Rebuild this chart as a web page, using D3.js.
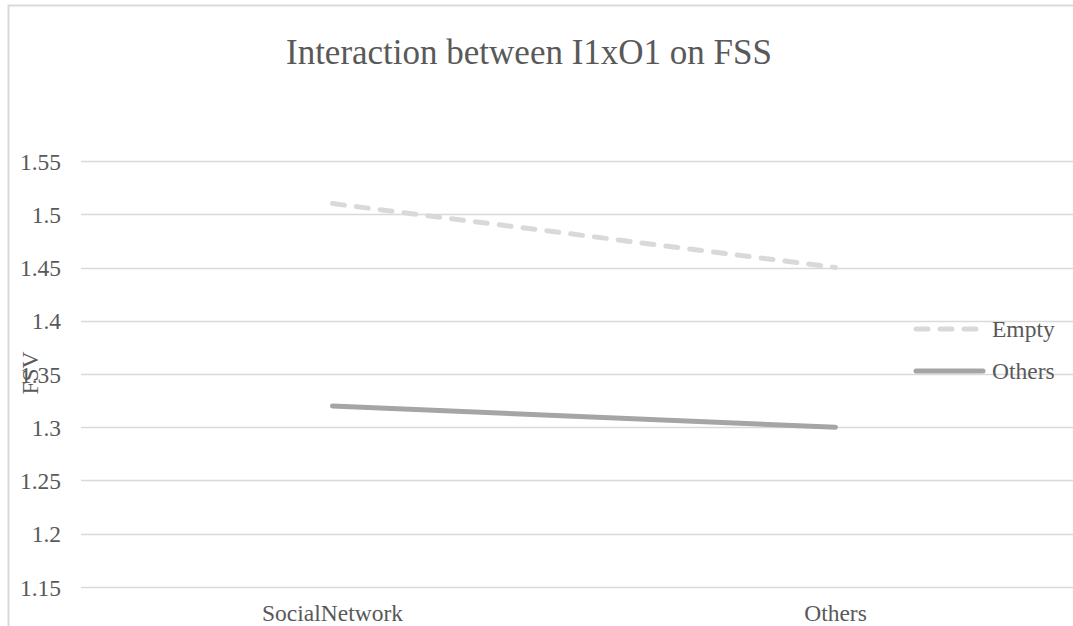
<!DOCTYPE html>
<html>
<head>
<meta charset="utf-8">
<script src="https://cdn.jsdelivr.net/npm/d3@7"></script>
<style>
  html, body { margin: 0; padding: 0; background: #fff; }
  svg { display: block; }
  text { font-family: "Liberation Serif", "Times New Roman", serif; fill: #595959; }
</style>
</head>
<body>
<svg id="chart" width="1073" height="626"></svg>
<script>
// Chart data
const categories = ["SocialNetwork", "Others"];
const seriesNames = ["Empty", "Others"];
const emptyValues = [1.51, 1.45];
const othersValues = [1.32, 1.30];
const yTicks = [1.15, 1.2, 1.25, 1.3, 1.35, 1.4, 1.45, 1.5, 1.55];
const titleText = "Interaction between I1xO1 on FSS";
const yTitle = "FSV";

const series = [
  { name: seriesNames[0], values: emptyValues, color: "#d9d9d9", dash: "12,12" },
  { name: seriesNames[1], values: othersValues, color: "#a5a5a5", dash: null }
];

const labelSize = 23.5;
const svg = d3.select("#chart");

// Outer chart frame
svg.append("rect")
  .attr("x", 8.5).attr("y", 5.5)
  .attr("width", 1100).attr("height", 700)
  .attr("fill", "none").attr("stroke", "#d9d9d9").attr("stroke-width", 2);

const plot = { left: 81, right: 1087, top: 161, bottom: 587 };

const x = d3.scaleBand().domain(categories).range([plot.left, plot.right]);
const y = d3.scaleLinear().domain([1.15, 1.55]).range([plot.bottom, plot.top]);

// Horizontal gridlines
svg.append("g")
  .selectAll("line")
  .data(yTicks)
  .join("line")
  .attr("x1", plot.left).attr("x2", plot.right)
  .attr("y1", d => Math.round(y(d)) + 0.5).attr("y2", d => Math.round(y(d)) + 0.5)
  .attr("stroke", "#d9d9d9").attr("stroke-width", 1.3);

// Y axis labels
const yAxis = d3.axisLeft(y).tickValues(yTicks).tickSize(0).tickPadding(0).tickFormat(d => String(+d.toFixed(2)));
svg.append("g")
  .attr("transform", `translate(61,0)`)
  .call(yAxis)
  .call(g => g.select(".domain").remove())
  .selectAll("text")
  .attr("font-size", labelSize)
  .attr("dy", "0.34em")
  .style("font-family", "Liberation Serif, serif")
  .attr("fill", "#595959");

// X axis labels
const xAxis = d3.axisBottom(x).tickSize(0).tickPadding(0);
svg.append("g")
  .attr("transform", `translate(0,621)`)
  .call(xAxis)
  .call(g => g.select(".domain").remove())
  .selectAll("text")
  .attr("font-size", labelSize)
  .attr("y", 0)
  .attr("dy", 0)
  .style("font-family", "Liberation Serif, serif")
  .attr("fill", "#595959");

// Series lines
const line = d3.line()
  .x((d, i) => x(categories[i]) + x.bandwidth() / 2)
  .y(d => y(d));

svg.append("g")
  .selectAll("path")
  .data(series)
  .join("path")
  .attr("d", d => line(d.values))
  .attr("fill", "none")
  .attr("stroke", d => d.color)
  .attr("stroke-width", 5)
  .attr("stroke-linecap", "round")
  .attr("stroke-dasharray", d => d.dash);

// Title
svg.append("text")
  .attr("x", 529).attr("y", 64)
  .attr("text-anchor", "middle")
  .attr("font-size", 35)
  .text(titleText);

// Y axis title
svg.append("text")
  .attr("transform", "translate(38,373) rotate(-90)")
  .attr("text-anchor", "middle")
  .attr("font-size", labelSize)
  .text(yTitle);

// Legend
const legend = svg.append("g");
const legendRows = legend.selectAll("g")
  .data(series)
  .join("g")
  .attr("transform", (d, i) => `translate(0,${329 + i * 42})`);
legendRows.append("line")
  .attr("x1", 916).attr("x2", 983)
  .attr("y1", 0).attr("y2", 0)
  .attr("stroke", d => d.color)
  .attr("stroke-width", 5)
  .attr("stroke-linecap", "round")
  .attr("stroke-dasharray", d => d.dash);
legendRows.append("text")
  .attr("x", 992).attr("y", 0)
  .attr("dy", "0.34em")
  .attr("font-size", labelSize)
  .text(d => d.name);
</script>
</body>
</html>
